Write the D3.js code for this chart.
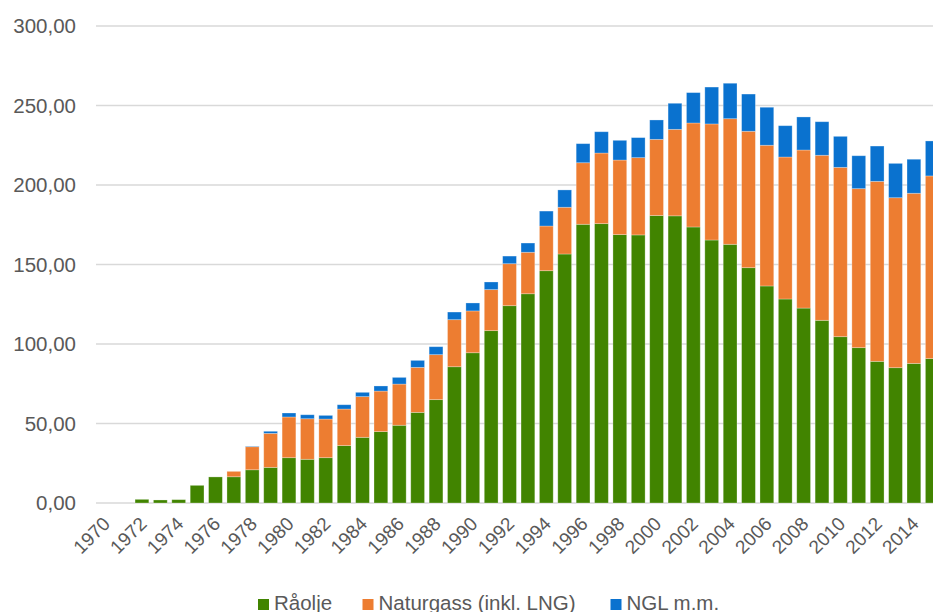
<!DOCTYPE html>
<html>
<head>
<meta charset="utf-8">
<script src="https://cdn.jsdelivr.net/npm/d3@7"></script>
<style>
  body { margin: 0; background: #fff; overflow: hidden; }
  text { font-family: "Liberation Sans", Arial, sans-serif; fill: #595959; }
</style>
</head>
<body>
<div id="chart"></div>
<script>
// data
const years = d3.range(1970, 2016);
const raolje = [0, 0, 2.3, 1.9, 2.1, 11.1, 16.4, 16.5, 20.9, 22.4,
    28.5, 27.5, 28.5, 36.1, 41.3, 44.9, 48.9, 57.0, 65.0, 85.7,
    94.5, 108.4, 124.1, 131.6, 146.1, 156.6, 175.3, 175.7, 168.8, 168.6,
    180.8, 180.6, 173.6, 165.4, 162.7, 148.0, 136.5, 128.3, 122.6, 114.9,
    104.6, 97.7, 89.1, 85.1, 87.8, 90.8];
const naturgassTotal = [0, 0, 2.3, 1.9, 2.1, 11.1, 16.4, 19.9, 35.4, 43.8,
    54.1, 53.0, 52.8, 59.1, 66.9, 70.4, 74.8, 85.3, 93.3, 115.3,
    120.8, 134.2, 150.5, 157.7, 174.2, 186.0, 214.0, 220.1, 215.7, 217.2,
    228.7, 235.0, 239.0, 238.4, 241.7, 233.8, 225.0, 217.6, 222.0, 218.7,
    211.1, 197.7, 202.3, 192.0, 194.8, 205.7];
const totals = [0, 0, 2.3, 1.9, 2.1, 11.1, 16.4, 19.9, 35.7, 45.1,
    56.6, 55.5, 55.1, 61.8, 69.6, 73.6, 79.0, 89.7, 98.3, 120.1,
    125.8, 139.0, 155.3, 163.5, 183.6, 196.9, 226.0, 233.5, 228.1, 229.8,
    240.9, 251.4, 258.1, 261.6, 264.0, 257.2, 248.9, 237.3, 242.8, 239.8,
    230.6, 218.4, 224.5, 213.6, 216.2, 227.7];
// series values per year
const naturgass = naturgassTotal.map((v, i) => +(v - raolje[i]).toFixed(1));
const ngl = totals.map((v, i) => +(v - naturgassTotal[i]).toFixed(1));

const seriesNames = ["Råolje", "Naturgass (inkl. LNG)", "NGL m.m."];
const colors = ["#418400", "#ED7D31", "#0A72CF"];
const yTicks = [0, 50, 100, 150, 200, 250, 300];

const W = 933, H = 612;
const left = 96, band = 18.38;
const y0 = 503, yTop = 26;

const svg = d3.select("#chart").append("svg")
    .attr("width", W)
    .attr("height", H);

const table = years.map((yr, i) => ({
    year: yr, "Råolje": raolje[i], "Naturgass (inkl. LNG)": naturgass[i], "NGL m.m.": ngl[i]
}));
const stacked = d3.stack().keys(seriesNames)(table);

const x = d3.scaleBand()
    .domain(years)
    .range([left, left + band * years.length])
    .paddingInner(0.25)
    .paddingOuter(0.125);

const y = d3.scaleLinear()
    .domain([0, 300])
    .range([y0, yTop]);

// gridlines
svg.append("g")
    .selectAll("line")
    .data(yTicks)
    .enter().append("line")
    .attr("x1", left)
    .attr("x2", W)
    .attr("y1", d => y(d))
    .attr("y2", d => y(d))
    .attr("stroke", "#d9d9d9")
    .attr("stroke-width", 1.5);

// y labels
const fmt = d => d3.format(".2f")(d).replace(".", ",");
svg.append("g")
    .selectAll("text")
    .data(yTicks)
    .enter().append("text")
    .attr("x", 76)
    .attr("y", d => y(d))
    .attr("dy", "0.36em")
    .attr("text-anchor", "end")
    .attr("font-size", "20.5px")
    .text(fmt);

// bars
svg.append("g")
    .selectAll("g")
    .data(stacked)
    .enter().append("g")
    .attr("fill", (d, i) => colors[i])
    .selectAll("rect")
    .data(d => d)
    .enter().append("rect")
    .attr("x", d => x(d.data.year))
    .attr("width", x.bandwidth())
    .attr("y", d => y(d[1]))
    .attr("height", d => y(d[0]) - y(d[1]))
    .attr("stroke", "#ffffff")
    .attr("stroke-opacity", 0.35)
    .attr("stroke-width", 0.8);

// x labels
svg.append("g")
    .selectAll("text")
    .data(years.filter(d => d % 2 == 0))
    .enter().append("text")
    .attr("text-anchor", "end")
    .attr("font-size", "19px")
    .attr("transform", d => `translate(${x(d) + x.bandwidth() / 2 + 6},${525}) rotate(-45)`)
    .text(d => d);

// legend
const legendX = [258, 362.5, 610.5];
const legend = svg.append("g")
    .selectAll("g")
    .data(seriesNames)
    .enter().append("g")
    .attr("transform", (d, i) => `translate(${legendX[i]},599)`);
legend.append("rect")
    .attr("width", 11)
    .attr("height", 11)
    .attr("fill", (d, i) => colors[i]);
legend.append("text")
    .attr("x", 16)
    .attr("y", 10.5)
    .attr("font-size", "20.5px")
    .text(d => d);
</script>
</body>
</html>
